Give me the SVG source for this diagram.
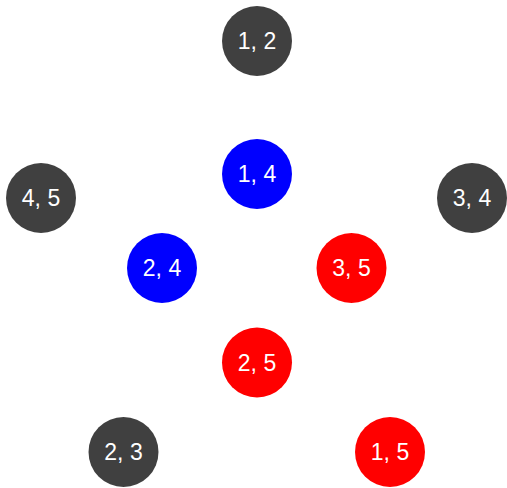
<svg xmlns="http://www.w3.org/2000/svg" width="507" height="488" viewBox="0 0 507 488">
<style>
.g{fill:#404040}.b{fill:#0000ff}.r{fill:#ff0000}
text{font-family:"Liberation Sans","DejaVu Sans",sans-serif;font-size:23px;fill:#ffffff;text-anchor:middle;dominant-baseline:central}
</style>
<rect width="507" height="488" fill="#ffffff"/>
<g id="connectors"></g>
<g id="n12"><circle class="g" cx="257" cy="41" r="35"/><text x="257" y="41">1, 2</text></g>
<g id="n14"><circle class="b" cx="257" cy="174" r="35"/><text x="257" y="174">1, 4</text></g>
<g id="n45"><circle class="g" cx="41" cy="198" r="35"/><text x="41" y="198">4, 5</text></g>
<g id="n34"><circle class="g" cx="472" cy="198" r="35"/><text x="472" y="198">3, 4</text></g>
<g id="n24"><circle class="b" cx="162" cy="268" r="35"/><text x="162" y="268">2, 4</text></g>
<g id="n35"><circle class="r" cx="351.5" cy="268" r="35"/><text x="351.5" y="268">3, 5</text></g>
<g id="n25"><circle class="r" cx="257" cy="362.5" r="35"/><text x="257" y="362.5">2, 5</text></g>
<g id="n23"><circle class="g" cx="123.5" cy="452" r="35"/><text x="123.5" y="452">2, 3</text></g>
<g id="n15"><circle class="r" cx="390" cy="452" r="35"/><text x="390" y="452">1, 5</text></g>
</svg>
